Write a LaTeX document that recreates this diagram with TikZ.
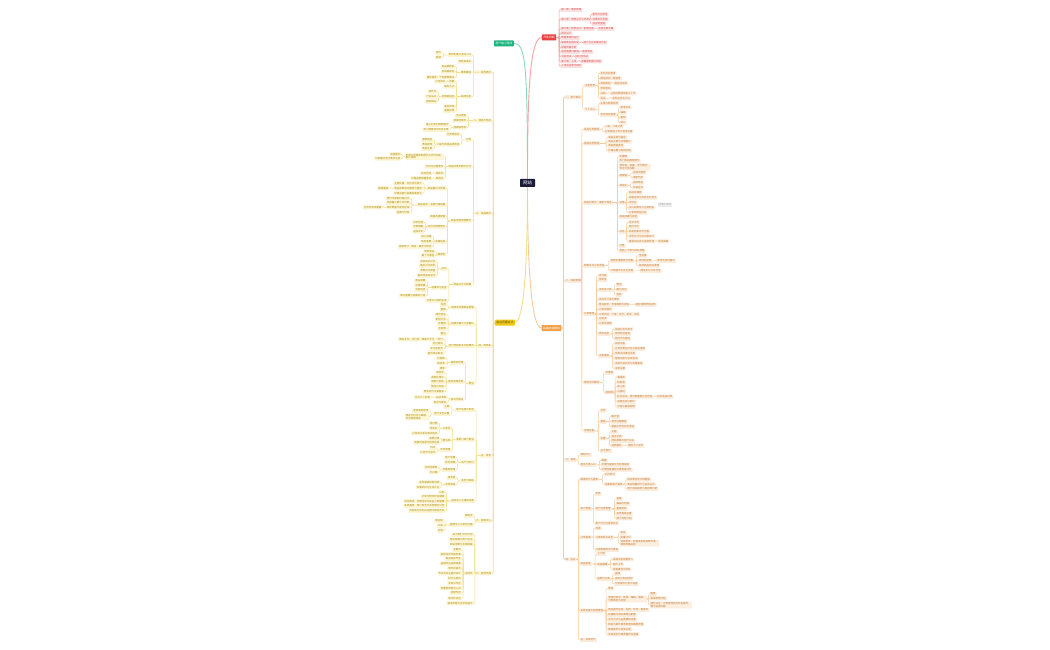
\documentclass[tikz,border=0pt]{standalone}
\usepackage{fontspec}
\newfontfamily\cjk{Noto Sans CJK SC}
\definecolor{rootC}{HTML}{1B1B3A}
\definecolor{redC}{HTML}{E8403F}
\definecolor{redF}{HTML}{FDE6E6}
\definecolor{redT}{HTML}{D9514E}
\definecolor{redL}{HTML}{F4A3A3}
\definecolor{oraC}{HTML}{F4A04A}
\definecolor{oraF}{HTML}{FDEFDF}
\definecolor{oraT}{HTML}{C27A35}
\definecolor{oraL}{HTML}{F7CB9C}
\definecolor{yelC}{HTML}{F2C811}
\definecolor{yelF}{HTML}{FFF7D6}
\definecolor{yelT}{HTML}{A88B12}
\definecolor{yelL}{HTML}{F4DE86}
\definecolor{grnC}{HTML}{1CB57E}
\definecolor{grnL}{HTML}{86D9BE}
\tikzset{
  base/.style={font={\cjk\fontsize{2.5}{2.9}\selectfont}, inner xsep=0.6pt, inner ysep=0.45pt, minimum height=3.6pt, rounded corners=0.4pt, line width=0.2pt},
  leaf/.style={base, fill=oraF, draw=oraF!70!oraL, text=oraT},
  link/.style={draw=oraL, line width=0.45pt, rounded corners=1pt},
  tlink/.style={link, line width=0.8pt},
  mainbox/.style={font={\cjk\fontsize{2.8}{3.2}\selectfont}, inner xsep=1.5pt, inner ysep=0.6pt, minimum height=6pt, rounded corners=0.6pt, text=white},
  note/.style={base, fill=gray!12, draw=gray!30, text=gray!65},
  rootlink/.style={line width=0.9pt},
}
\newcommand\RN[6][]{\node[leaf,anchor=west,#1] (#2) at (#4,#5) {#6};
  \draw[link] (#3.east) -| ([xshift=-1.6pt]#2.west) -- (#2.west);}
\newcommand\RT[6][]{\node[leaf,anchor=west,#1] (#2) at (#4,#5) {#6};
  \draw[tlink] (#3.east) -| ([xshift=-1.6pt]#2.west) -- (#2.west);}
\newcommand\LN[6][]{\node[leaf,anchor=east,#1] (#2) at (#4,#5) {#6};
  \draw[link] (#3.west) -| ([xshift=1.6pt]#2.east) -- (#2.east);}
\newcommand\LT[6][]{\node[leaf,anchor=east,#1] (#2) at (#4,#5) {#6};
  \draw[tlink] (#3.west) -| ([xshift=1.6pt]#2.east) -- (#2.east);}
\begin{document}
\begin{tikzpicture}[x=1pt,y=-1pt]
\useasboundingbox (0,0) rectangle (1050,650);
\fill[white] (0,0) rectangle (1050,650);

% ---------- root curves (coordinates of main nodes first) ----------
\coordinate (grnE) at (513.9,43.5);
\coordinate (redW) at (541.9,37.5);
\coordinate (yelE) at (514.8,322.7);
\coordinate (oraW) at (541.6,328);
\draw[rootlink,grnL] (527.5,180) .. controls (527.5,60) and (525,43.5) .. (grnE);
\draw[rootlink,redL] (527.5,180) .. controls (527.5,90) and (530,37.5) .. (redW);
\draw[rootlink,yelL] (527.5,186) .. controls (527.5,285) and (522,322.7) .. (yelE);
\draw[rootlink,oraL] (527.5,186) .. controls (527.5,285) and (533,328) .. (oraW);

% ---------- main nodes ----------
\node[mainbox,fill=rootC,font={\cjk\fontsize{4.5}{5}\selectfont},inner xsep=3pt,minimum height=8pt] (root) at (527.5,183) {网站};
\node[mainbox,fill=grnC] (grn) at (504,43.5) {用户端小程序};
\node[mainbox,fill=redC] (red) at (549,37.5) {开发排期};
\node[mainbox,fill=yelC,text=black!75] (yel) at (504.9,322.7) {前台页面设计};
\node[mainbox,fill=oraC] (ora) at (551.5,328) {后端功能模块};

% ---------- red branch ----------
\tikzset{leaf/.style={base, fill=redF, draw=redF!70!redL, text=redT}, link/.style={draw=redL, line width=0.45pt, rounded corners=1pt}, tlink/.style={link, line width=0.6pt}}
\RT{r1}{red}{560.7}{10}{第一周：需求梳理}
\RT{r2}{red}{560.7}{19.3}{第二周：原型设计与评审}
\RN{r2a}{r2}{592}{14.3}{首页交互原型}
\RN{r2b}{r2}{592}{19.3}{详情页交互图}
\RN{r2c}{r2}{592}{24}{后台原型图}
\RT{r3}{red}{560.7}{29}{第三周：视觉设计、前端切图}
\RN{r3a}{r3}{597.7}{29}{完成全部页面}
\RT{r4}{red}{560.7}{33.3}{接口设计}
\RT{r5}{red}{560.7}{38}{数据库结构设计}
\RT{r6}{red}{560.7}{42.7}{第四周后端开发}
\RN{r6a}{r6}{583}{42.7}{用户与订单模块开发}
\RT{r7}{red}{560.7}{47.3}{前端页面开发}
\RT{r8}{red}{560.7}{52}{前后端接口联调}
\RN{r8a}{r8}{581.7}{52}{联调测试}
\RT{r9}{red}{560.7}{56.7}{功能测试}
\RN{r9a}{r9}{575}{56.7}{回归性测试}
\RT{r10}{red}{560.7}{61.3}{第六周：上线}
\RN{r10a}{r10}{580.7}{61.3}{部署服务器与域名}
\RT{r11}{red}{560.7}{66}{上线后运营与维护}

% ---------- orange branch ----------
\tikzset{leaf/.style={base, fill=oraF, draw=oraF!70!oraL, text=oraT}, link/.style={draw=oraL, line width=0.45pt, rounded corners=1pt}, tlink/.style={link, line width=0.8pt}}
\RT{o1}{ora}{565}{97.3}{一、用户模块}
\RN{o1a}{o1}{584.3}{85.7}{注册登录}
\RN{o1a1}{o1a}{600}{73.3}{手机号码登录}
\RN{o1a2}{o1a}{600}{78.3}{微信授权一键登录}
\RN{o1a3}{o1a}{600}{83.3}{找回密码}
\RN{o1a3a}{o1a3}{614}{83.3}{短信验证码}
\RN{o1a4}{o1a}{600}{88.3}{修改密码}
\RN{o1a5}{o1a}{600}{93.3}{注销}
\RN{o1a5a}{o1a5}{610}{93.3}{注销后数据保留三十天}
\RN{o1a6}{o1a}{600}{98.3}{实名}
\RN{o1a6a}{o1a6}{611.7}{98.3}{身份证实名认证}
\RN{o1b}{o1}{584.3}{109.3}{个人中心}
\RN{o1b1}{o1b}{600}{103.3}{头像与昵称修改}
\RN{o1b2}{o1b}{600}{115}{收货地址管理}
\RN{o1b2a}{o1b2}{620}{107.7}{新增地址}
\RN{o1b2b}{o1b2}{620}{112.7}{编辑}
\RN{o1b2c}{o1b2}{620}{117.7}{删除}
\RN{o1b2d}{o1b2}{620}{122.7}{默认}

\RT{o2}{ora}{565}{280.7}{二、商品管理}
\RN{o2a}{o2}{583.5}{129.3}{商品分类管理}
\RN{o2a1}{o2a}{604.3}{126.7}{一级、二级分类}
\RN{o2a2}{o2a}{604.3}{131.7}{分类图标上传与排序设置}
\RN{o2b}{o2}{583.5}{143.3}{商品信息管理}
\RN{o2b1}{o2b}{607.7}{137.3}{商品名称与编号}
\RN{o2b2}{o2b}{607.7}{141.7}{商品主图与详情图片}
\RN{o2b3}{o2b}{607.7}{146}{商品规格库存}
\RN{o2b4}{o2b}{607.7}{150.7}{价格设置与促销价格}
\RN{o2c}{o2}{583.5}{202.7}{商品列表页：搜索与筛选}
\RN{o2c1}{o2c}{619}{156.7}{轮播图}
\RN{o2c2}{o2c}{619}{161}{热门商品推荐展示}
\RN[align=left]{o2c3}{o2c}{619}{167}{按价格、销量、评分排序，\\支持分页加载}
\RN{o2c4}{o2c}{619}{175.7}{搜索框}
\RN{o2c4a}{o2c4}{632.3}{172.7}{关键词搜索}
\RN{o2c4b}{o2c4}{632.3}{177.7}{搜索历史}
\RN{o2c5}{o2c}{619}{185.7}{筛选栏}
\RN{o2c5a}{o2c5}{632.3}{182.7}{品牌筛选}
\RN{o2c5b}{o2c5}{632.3}{187.7}{价格区间}
\RN{o2c6}{o2c}{619}{202.7}{详情}
\RN{o2c6a}{o2c6}{628.3}{192.7}{商品轮播图}
\RN{o2c6b}{o2c6}{628.3}{197.7}{规格选择与库存实时显示}
\RN{o2c6c}{o2c6}{628.3}{202.7}{评价区}
\RN{o2c6d}{o2c6}{628.3}{207.7}{加入购物车与立即购买}
\RN{o2c6e}{o2c6}{628.3}{212.7}{分享到微信好友}
\node[note] (o2note) at (665,204.7) {待确认需求};
\RN{o2c7}{o2c}{619}{217}{商品收藏与足迹}
\RN{o2c8}{o2c}{619}{231.7}{评论}
\RN{o2c8a}{o2c8}{628.3}{222.3}{文字评价}
\RN{o2c8b}{o2c8}{628.3}{227}{图片评价}
\RN{o2c8c}{o2c8}{628.3}{231.7}{商家回复评价内容}
\RN{o2c8d}{o2c8}{628.3}{236.3}{评价打分与好评率统计}
\RN{o2c8e}{o2c8}{628.3}{241.3}{敏感词过滤与违规处理}
\RN{o2c8e1}{o2c8e}{657.7}{241.3}{自动屏蔽}
\RN{o2c9}{o2c}{619}{246}{问答}
\RN{o2c10}{o2c}{619}{251}{商品上下架与库存预警}
\RN{o2d}{o2}{583.5}{265.7}{购物车与订单流程}
\RN{o2d1}{o2d}{610}{261}{购物车增删改与结算}
\RN{o2d1a}{o2d1}{638.3}{255.7}{全选框}
\RN{o2d1b}{o2d1}{638.3}{261}{修改购买数}
\RN{o2d1b1}{o2d1b}{656.7}{261}{库存不足时提示}
\RN{o2d1c}{o2d1}{638.3}{265.7}{失效商品自动清理}
\RN{o2d2}{o2d}{610}{271}{订单提交与支付流程}
\RN{o2d2a}{o2d2}{640}{271}{微信支付与支付宝}
\RN{o2e}{o2}{583.5}{314}{订单管理}
\RN{o2e1}{o2e}{598.3}{275.7}{待付款}
\RN{o2e2}{o2e}{598.3}{280}{待发货}
\RN{o2e3}{o2e}{598.3}{290}{待收货订单}
\RN{o2e3a}{o2e3}{616}{285}{物流}
\RN{o2e3b}{o2e3}{616}{290}{确认收货}
\RN{o2e3c}{o2e3}{616}{295}{签收}
\RN{o2e4}{o2e}{598.3}{299.3}{待评价订单与晒单}
\RN{o2e5}{o2e}{598.3}{304.7}{售后服务：申请退款与退货}
\RN{o2e5a}{o2e5}{635}{304.7}{填写退款原因说明}
\RN{o2e6}{o2e}{598.3}{309.3}{订单详情页}
\RN{o2e7}{o2e}{598.3}{314.3}{订单状态：下单、支付、发货、完成}
\RN{o2e8}{o2e}{598.3}{319}{已取消}
\RN{o2e9}{o2e}{598.3}{323.3}{订单号搜索}
\RN{o2e10}{o2e}{598.3}{334}{物流信息}
\RN{o2e10a}{o2e10}{614.3}{329.3}{快递公司与单号}
\RN{o2e10b}{o2e10}{614.3}{334}{物流轨迹查询}
\RN{o2e10c}{o2e10}{614.3}{338.7}{物流节点推送}
\RN{o2e11}{o2e}{598.3}{356}{消息通知}
\RN{o2e11a}{o2e11}{614.3}{343.7}{系统消息}
\RN{o2e11b}{o2e11}{614.3}{348.7}{订单变更站内信与短信通知}
\RN{o2e11c}{o2e11}{614.3}{353.3}{优惠活动推送消息}
\RN{o2e11d}{o2e11}{614.3}{358.3}{客服消息与在线咨询}
\RN{o2e11e}{o2e11}{614.3}{363.3}{消息已读状态与批量删除}
\RN{o2e11f}{o2e11}{614.3}{368.3}{消息设置}
\RN{o2f}{o2}{583.5}{382.3}{营销活动模块}
\RN{o2f1}{o2f}{605}{372.7}{优惠券}
\RN{o2f2}{o2f}{605}{392.3}{促销类}
\RN{o2f2a}{o2f2}{616.7}{377.3}{满减券}
\RN{o2f2b}{o2f2}{616.7}{382.3}{折扣券}
\RN{o2f2c}{o2f2}{616.7}{387}{新人券}
\RN{o2f2d}{o2f2}{616.7}{391.7}{兑换码}
\RN{o2f2e}{o2f2}{616.7}{396.7}{秒杀活动：限时限量倒计时抢购}
\RN{o2f2e1}{o2f2e}{656.7}{396.7}{秒杀商品列表}
\RN{o2f2f}{o2f2}{616.7}{401.7}{拼团活动与砍价}
\RN{o2f2g}{o2f2}{616.7}{406.7}{分销与邀请返佣}
\RN{o2g}{o2}{583.5}{431}{店铺设置}
\RN{o2g1}{o2g}{600}{410.5}{公告}
\RN{o2g2}{o2g}{600}{421.7}{客服}
\RN{o2g2a}{o2g2}{611}{416.7}{聊天室}
\RN{o2g2b}{o2g2}{611}{421.7}{常见问题解答}
\RN{o2g2c}{o2g2}{611}{426.7}{客服工作时间与电话}
\RN{o2g3}{o2g}{600}{438.3}{设置}
\RN{o2g3a}{o2g3}{611}{431.7}{主题}
\RN{o2g3b}{o2g3}{611}{436.7}{语言切换}
\RN{o2g3c}{o2g3}{611}{441}{隐私政策与用户协议}
\RN{o2g3d}{o2g3}{611}{445.7}{清除缓存}
\RN{o2g3d1}{o2g3d}{627.7}{445.7}{缓存大小显示}
\RN{o2g4}{o2g}{600}{451}{关于我们}

\RT{o3}{ora}{565}{460}{三、其他}
\RN{o3a}{o3}{580}{455}{帮助中心}
\RN{o3b}{o3}{580}{465}{意见反馈入口}
\RN{o3b1}{o3b}{601}{460.3}{截图}
\RN{o3b2}{o3b}{601}{465}{反馈内容提交与处理进度}
\RN{o3b3}{o3b}{601}{469.7}{反馈回复通知与满意度评价}

\RT{o4}{ora}{565}{559.3}{四、后台}
\RN{o4a}{o4}{580}{479.3}{数据统计与报表}
\RN{o4a1}{o4a}{604.3}{474.3}{访问统计}
\RN{o4a2}{o4a}{604.3}{484.3}{销售额统计报表}
\RN{o4a2a}{o4a2}{626.7}{479.5}{按日周月统计销售额}
\RN{o4a2b}{o4a2}{626.7}{484.3}{商品销量排行与品类占比}
\RN{o4a2c}{o4a2}{626.7}{489}{用户增长趋势与留存率分析}
\RN{o4b}{o4}{580}{509}{用户管理}
\RN{o4b1}{o4b}{595}{494}{列表}
\RN{o4b2}{o4b}{595}{509}{用户信息管理}
\RN{o4b2a}{o4b2}{616}{499}{查看}
\RN{o4b2b}{o4b2}{616}{504}{编辑与封禁}
\RN{o4b2c}{o4b2}{616}{509}{重置密码}
\RN{o4b2d}{o4b2}{616}{513.7}{会员等级设置}
\RN{o4b2e}{o4b2}{616}{518.3}{用户标签分组}
\RN{o4b3}{o4b}{595}{523.3}{用户行为与登录日志}
\RN{o4c}{o4}{580}{537.3}{订单管理}
\RN{o4c1}{o4c}{595}{528.3}{列表}
\RN{o4c2}{o4c}{595}{537.3}{订单审核与发货}
\RN{o4c2a}{o4c2}{620}{532.7}{发货}
\RN{o4c2b}{o4c2}{620}{537.3}{批量打印}
\RN[align=left]{o4c2c}{o4c2}{620}{543.3}{退款审核：同意或拒绝退款申请，\\退款原路返回}
\RN{o4c3}{o4c}{595}{550}{订单数据导出为表格}
\RN{o4d}{o4}{580}{564}{商品管理}
\RN{o4d1}{o4d}{596.7}{554}{上下架}
\RN{o4d2}{o4d}{596.7}{564.3}{商品编辑}
\RN{o4d2a}{o4d2}{612.3}{559.3}{商品信息批量导入}
\RN{o4d2b}{o4d2}{612.3}{564.3}{图片上传}
\RN{o4d2c}{o4d2}{612.3}{569.3}{规格属性与库存}
\RN{o4d3}{o4d}{596.7}{579}{品牌与分类}
\RN{o4d3a}{o4d3}{614.3}{574}{品牌}
\RN{o4d3b}{o4d3}{614.3}{579}{多级分类树结构}
\RN{o4d3c}{o4d3}{614.3}{584}{分类排序与显示设置}
\RN{o4e}{o4}{580}{610.7}{系统设置与权限管理}
\RN{o4e1}{o4e}{607.7}{588.3}{角色}
\RN[align=left]{o4e2}{o4e}{607.7}{599}{管理员账号：新增、编辑、删除，\\分配角色与权限}
\RN{o4e2a}{o4e2}{650}{594}{超管}
\RN{o4e2b}{o4e2}{650}{598.3}{菜单权限分配}
\RN[align=left]{o4e2c}{o4e2}{650}{605}{操作日志：记录管理员的所有操作，\\便于追溯问题}
\RN{o4e3}{o4e}{607.7}{610}{网站基本信息：名称、标志、备案号}
\RN{o4e4}{o4e}{607.7}{615}{轮播图与首页推荐位配置}
\RN{o4e5}{o4e}{607.7}{619.7}{支付方式与运费模板设置}
\RN{o4e6}{o4e}{607.7}{624.3}{短信与邮件服务配置及模板管理}
\RN{o4e7}{o4e}{607.7}{629.3}{数据备份与恢复功能}
\RN{o4e8}{o4e}{607.7}{634.3}{系统监控与服务器状态查看}
\RN{o4f}{o4}{580}{640}{五、后续迭代}

% ---------- yellow branch ----------
\tikzset{leaf/.style={base, fill=yelF, draw=yelF!70!yelL, text=yelT}, link/.style={draw=yelL, line width=0.45pt, rounded corners=1pt}, tlink/.style={link, line width=0.8pt}}
\LT{y1}{yel}{491.7}{72.3}{一、首页展示}
\LN{y1a}{y1}{471.7}{55}{首页轮播与活动入口}
\LN{y1a1}{y1a}{441.7}{52.7}{图片}
\LN{y1a2}{y1a}{441.7}{57.3}{链接}
\LN{y1b}{y1}{471.7}{61.7}{导航菜单栏}
\LN{y1c}{y1}{471.7}{72.3}{推荐模块}
\LN{y1c1}{y1c}{455}{66.7}{新品推荐区}
\LN{y1c2}{y1c}{455}{71.7}{热销推荐区}
\LN{y1c3}{y1c}{455}{77.3}{猜你喜欢：个性推荐算法}
\LN{y1d}{y1}{471.7}{96.7}{底部信息}
\LN{y1d1}{y1d}{455}{81.7}{地图}
\LN{y1d1a}{y1d1}{446}{81.7}{公司地址}
\LN{y1d2}{y1d}{455}{86.7}{联系方式}
\LN{y1d3}{y1d}{455}{96.7}{友情链接区}
\LN{y1d3a}{y1d3}{437}{91.7}{合作方}
\LN{y1d3b}{y1d3}{437}{96.7}{行业站点}
\LN{y1d3c}{y1d3}{437}{101.7}{相关网站}
\LN{y1d4}{y1d}{455}{106.7}{版权声明}
\LN{y1d5}{y1d}{455}{111}{备案信息}

\LT{y2}{yel}{491.7}{120.7}{二、搜索与导航}
\LN{y2a}{y2}{466.7}{116}{全站搜索}
\LN{y2b}{y2}{466.7}{120.7}{搜索结果页}
\LN{y2c}{y2}{466.7}{127.7}{搜索联想词}
\LN{y2c1}{y2c}{449.3}{125}{输入时实时联想提示}
\LN{y2c2}{y2c}{449.3}{130}{热门搜索词与历史记录}

\LT{y3}{yel}{491.7}{213.3}{三、商品展示}
\LN{y3a}{y3}{471.7}{140}{分类}
\LN{y3a1}{y3a}{460}{134.3}{分类导航栏}
\LN{y3a2}{y3a}{460}{144.5}{二级分类按品类筛选}
\LN{y3a2a}{y3a2}{433}{140}{服装鞋包}
\LN{y3a2b}{y3a2}{433}{144.5}{数码家电}
\LN{y3a2c}{y3a2}{433}{149}{食品生鲜}
\LN{y3b}{y3}{471.7}{166.7}{商品列表页展示方式}
\LN[align=left]{y3b1}{y3b}{444}{156.5}{列表与宫格两种展示方式可切换，\\默认宫格}
\LN{y3b1a}{y3b1}{401}{154.3}{宫格模式}
\LN{y3b1b}{y3b1}{401}{158.7}{列表模式显示更多信息}
\LN{y3b2}{y3b}{444}{166.7}{分页与加载更多}
\LN{y3b3}{y3b}{444}{173.3}{排序栏}
\LN{y3b3a}{y3b3}{432}{173.3}{综合排序}
\LN{y3b4}{y3b}{444}{178.3}{筛选栏}
\LN{y3b4a}{y3b4}{432}{178.3}{价格品牌销量筛选}
\LN{y3c}{y3}{471.7}{221}{商品详情页面展示}
\LN{y3c1}{y3c}{446}{188.3}{商品图片与视频}
\LN{y3c1a}{y3c1}{422.5}{183.3}{主图轮播，支持点击放大}
\LN{y3c1b}{y3c1}{422.5}{188.3}{商品视频自动播放与暂停}
\LN{y3c1b1}{y3c1b}{389}{188.3}{静音播放}
\LN{y3c1c}{y3c1}{422.5}{193.3}{详情长图分段懒加载显示}
\LN{y3c2}{y3c}{446}{205}{商品信息：名称价格销量}
\LN{y3c2a}{y3c2}{410}{198.3}{原价与促销价格对比}
\LN{y3c2b}{y3c2}{410}{202.7}{月销量与累计评价数}
\LN{y3c2c}{y3c2}{410}{207.3}{库存数量与配送区域}
\LN{y3c2c1}{y3c2c}{382}{207.3}{无货时到货提醒}
\LN{y3c2d}{y3c2}{410}{212.3}{运费与时效}
\LN{y3c3}{y3c}{446}{216.7}{规格选择弹窗}
\LN{y3c4}{y3c}{446}{226.7}{评价与晒单展示}
\LN{y3c4a}{y3c4}{424}{222.3}{评价标签}
\LN{y3c4b}{y3c4}{424}{227}{买家晒图}
\LN{y3c4c}{y3c4}{424}{231.7}{追加评价}
\LN{y3c5}{y3c}{446}{241.7}{店铺信息}
\LN{y3c5a}{y3c5}{432}{236.7}{进入店铺}
\LN{y3c5b}{y3c5}{432}{241.7}{联系客服}
\LN{y3c5c}{y3c5}{432}{246.7}{店铺评分：描述、服务与物流}
\LN{y3c6}{y3c}{446}{254.3}{推荐区}
\LN{y3c6a}{y3c6}{435}{251.7}{同类商品}
\LN{y3c6b}{y3c6}{435}{255.7}{看了又看区}
\LN{y3d}{y3}{471.7}{284.3}{商品对比与收藏}
\LN{y3d1}{y3d}{447.3}{269}{对比}
\LN{y3d1a}{y3d1}{436}{261.7}{添加到对比栏}
\LN{y3d1b}{y3d1}{436}{266}{最多对比四件}
\LN{y3d1c}{y3d1}{436}{271}{参数对比表格}
\LN{y3d1d}{y3d1}{436}{275.7}{差异项高亮显示}
\LN{y3d2}{y3d}{447.3}{287.7}{收藏夹与足迹}
\LN{y3d2a}{y3d2}{426}{281}{商品收藏}
\LN{y3d2b}{y3d2}{426}{285.3}{店铺收藏}
\LN{y3d2c}{y3d2}{426}{290}{浏览足迹}
\LN{y3d2d}{y3d2}{426}{295.7}{降价提醒与收藏夹分组}
\LN{y3d3}{y3d}{447.3}{301}{分享与二维码生成}

\LT{y4}{yel}{491.7}{346}{四、购物车}
\LN{y4a}{y4}{474.5}{307.3}{购物车页面商品管理}
\LN{y4a1}{y4a}{446.5}{305}{勾选}
\LN{y4a2}{y4a}{446.5}{310}{删除}
\LN{y4b}{y4}{474.5}{324}{结算页面与订单确认}
\LN{y4b1}{y4b}{446.5}{315}{收货地址}
\LN{y4b2}{y4b}{446.5}{319.3}{配送方式}
\LN{y4b3}{y4b}{446.5}{324}{优惠券}
\LN{y4b4}{y4b}{446.5}{329}{开发票}
\LN{y4b5}{y4b}{446.5}{334}{备注}
\LN{y4c}{y4}{474.5}{346}{支付流程及支付结果页}
\LN{y4c1}{y4c}{443.5}{339.3}{支付}
\LN{y4c1a}{y4c1}{435}{339.3}{微信支付、支付宝、银联卡支付}
\LN{y4c2}{y4c}{443.5}{344}{支付成功}
\LN{y4c3}{y4c}{443.5}{349}{支付失败页}
\LN{y4c4}{y4c}{443.5}{353.3}{超时自动取消}
\LN{y4d}{y4}{474.5}{383.3}{售后}
\LN{y4d1}{y4d}{464}{362.7}{退换货申请}
\LN{y4d1a}{y4d1}{445.5}{358.3}{仅退款}
\LN{y4d1b}{y4d1}{445.5}{363.3}{换货单}
\LN{y4d1c}{y4d1}{445.5}{368.3}{维修}
\LN{y4d2}{y4d}{464}{381.7}{售后进度查询}
\LN{y4d2a}{y4d2}{444.5}{372.7}{审核中}
\LN{y4d2b}{y4d2}{444.5}{377.3}{退款处理中}
\LN{y4d2c}{y4d2}{444.5}{382}{退款已到账}
\LN{y4d2d}{y4d2}{444.5}{386.7}{售后已完成}
\LN{y4d2e}{y4d2}{444.5}{391.7}{售后评价与满意度}
\LN{y4d3}{y4d}{464}{399.3}{投诉与建议}
\LN{y4d3a}{y4d3}{447}{397.3}{投诉商家}
\LN{y4d3a1}{y4d3a}{430.5}{397.3}{平台介入处理}
\LN{y4d3b}{y4d3}{447}{402.3}{意见与建议}

\LT{y5}{yel}{491.7}{455.7}{五、会员}
\LN{y5a}{y5}{474.5}{410}{账户信息与安全}
\LN{y5a1}{y5a}{450}{406.7}{头像}
\LN{y5a2}{y5a}{450}{414}{账户安全设置}
\LN{y5a2a}{y5a2}{429}{411}{登录密码修改}
\LN[align=left]{y5a2b}{y5a2}{429}{416.7}{绑定手机号与邮箱，\\支持更换绑定}
\LN{y5b}{y5}{474.5}{439.5}{我的订单与售后}
\LN{y5b1}{y5b}{451}{428.3}{订单页}
\LN{y5b1a}{y5b1}{438}{423.3}{待付款}
\LN{y5b1b}{y5b1}{438}{428.3}{待发货}
\LN{y5b1c}{y5b1}{438}{433.3}{已完成订单与再次购买}
\LN{y5b2}{y5b}{451}{440.3}{售后单}
\LN{y5b2a}{y5b2}{440}{438.3}{退款记录}
\LN{y5b2b}{y5b2}{440}{442.5}{退换货进度与物流信息}
\LN{y5b3}{y5b}{451}{450}{评价管理}
\LN{y5b3a}{y5b3}{436}{448}{待评}
\LN{y5b3b}{y5b3}{436}{452.3}{已评价与追评}
\LN{y5c}{y5}{474.5}{462.3}{资产与积分}
\LN{y5c1}{y5c}{456}{457.7}{账户余额}
\LN{y5c2}{y5c}{456}{462.3}{积分明细}
\LN{y5c3}{y5c}{456}{470}{优惠券管理}
\LN{y5c3a}{y5c3}{438}{467.3}{可用优惠券}
\LN{y5c3b}{y5c3}{438}{472.3}{已过期}
\LN{y5d}{y5}{474.5}{481}{会员与等级}
\LN{y5d1}{y5d}{456}{477.7}{成长值}
\LN{y5d2}{y5d}{456}{484.3}{会员等级}
\LN{y5d2a}{y5d2}{440}{482.3}{会员等级规则说明}
\LN{y5d2b}{y5d2}{440}{487.3}{专属折扣与生日礼包}
\LN{y5e}{y5}{474.5}{501}{消息中心与通知设置}
\LN{y5e1}{y5e}{445}{492.3}{公告}
\LN{y5e2}{y5e}{445}{496.7}{订单与物流状态通知}
\LN{y5e3}{y5e}{445}{501.3}{活动推送：优惠活动与新品上架提醒}
\LN{y5e4}{y5e}{445}{506}{系统通知：账户安全与系统维护公告}
\LN{y5e5}{y5e}{445}{511}{消息免打扰时段设置与推送开关}

\LT{y6}{yel}{491.7}{521}{六、客服中心}
\LN{y6a}{y6}{473.3}{515.7}{帮助页}
\LN{y6b}{y6}{473.3}{525}{客服中心与常见问题}
\LN{y6b1}{y6b}{443.5}{521}{留言板}
\LN{y6b2}{y6b}{443.5}{525.7}{工单}
\LN{y6b3}{y6b}{443.5}{530.7}{反馈}

\LT{y7}{yel}{491.7}{573.3}{七、其他页面}
\LN{y7a}{y7}{473.3}{535}{关于我们公司介绍}
\LN{y7b}{y7}{473.3}{540}{隐私政策与用户协议}
\LN{y7c}{y7}{473.3}{544.3}{网站地图与友情链接}
\LN{y7d}{y7}{473.3}{573.3}{活动页}
\LN{y7d1}{y7d}{461.5}{550}{专题页}
\LN{y7d2}{y7d}{461.5}{554.3}{促销活动专题页面}
\LN{y7d3}{y7d}{461.5}{559}{新品首发专区}
\LN{y7d4}{y7d}{461.5}{563.7}{品牌专区品牌故事}
\LN{y7d5}{y7d}{461.5}{568.3}{限时折扣页}
\LN{y7d6}{y7d}{461.5}{573.3}{节日活动主题页设计}
\LN{y7d7}{y7d}{461.5}{578.3}{积分兑换页}
\LN{y7d8}{y7d}{461.5}{583.3}{会员日专区}
\LN{y7d9}{y7d}{461.5}{588.3}{优惠券领券中心页}
\LN{y7d10}{y7d}{461.5}{593}{拼团专区}
\LN{y7d11}{y7d}{461.5}{598.3}{限时秒杀区}
\LN{y7e}{y7}{473.3}{603.3}{错误页面与空状态提示}
\end{tikzpicture}
\end{document}
